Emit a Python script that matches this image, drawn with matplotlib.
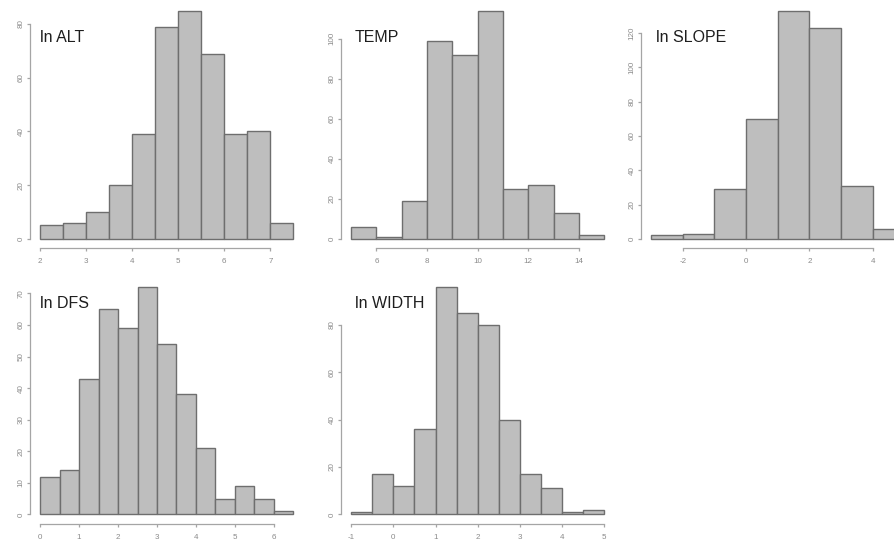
import matplotlib
matplotlib.use("Agg")
import matplotlib.pyplot as plt
import numpy as np

plt.rcParams['font.family'] = ['Liberation Sans', 'DejaVu Sans']

# ---- data (bin edges and counts) ----
alt_edges = [2, 2.5, 3, 3.5, 4, 4.5, 5, 5.5, 6, 6.5, 7, 7.5]
alt_counts = [5, 6, 10, 20, 39, 79, 85, 69, 39, 40, 6]
alt_xticks = [2, 3, 4, 5, 6, 7]
alt_yticks = [0, 20, 40, 60, 80]

temp_edges = [5, 6, 7, 8, 9, 10, 11, 12, 13, 14, 15]
temp_counts = [6, 1, 19, 99, 92, 114, 25, 27, 13, 2]
temp_xticks = [6, 8, 10, 12, 14]
temp_yticks = [0, 20, 40, 60, 80, 100]

slope_edges = [-3, -2, -1, 0, 1, 2, 3, 4, 5]
slope_counts = [2, 3, 29, 70, 133, 123, 31, 6]
slope_xticks = [-2, 0, 2, 4]
slope_yticks = [0, 20, 40, 60, 80, 100, 120]

dfs_edges = [0, 0.5, 1, 1.5, 2, 2.5, 3, 3.5, 4, 4.5, 5, 5.5, 6, 6.5]
dfs_counts = [12, 14, 43, 65, 59, 72, 54, 38, 21, 5, 9, 5, 1]
dfs_xticks = [0, 1, 2, 3, 4, 5, 6]
dfs_yticks = [0, 10, 20, 30, 40, 50, 60, 70]

width_edges = [-1, -0.5, 0, 0.5, 1, 1.5, 2, 2.5, 3, 3.5, 4, 4.5, 5]
width_counts = [1, 17, 12, 36, 96, 85, 80, 40, 17, 11, 1, 2]
width_xticks = [-1, 0, 1, 2, 3, 4, 5]
width_yticks = [0, 20, 40, 60, 80]

titles = ["ln ALT", "TEMP", "ln SLOPE", "ln DFS", "ln WIDTH"]

W, H = 895, 541
fig = plt.figure(figsize=(W / 100, H / 100), dpi=100)
fig.patch.set_facecolor('white')

# plot regions in pixels: (left, top)
col_left = [30, 341, 641]
col_w = 273.5
row_top = [1.5, 278]
row_h = [246.5, 245.5]

panels = [
    (alt_edges, alt_counts, alt_xticks, alt_yticks, 0, 0),
    (temp_edges, temp_counts, temp_xticks, temp_yticks, 0, 1),
    (slope_edges, slope_counts, slope_xticks, slope_yticks, 0, 2),
    (dfs_edges, dfs_counts, dfs_xticks, dfs_yticks, 1, 0),
    (width_edges, width_counts, width_xticks, width_yticks, 1, 1),
]

axis_col = '#a5a5a5'
lab_col = '#8a8a8a'

for (edges, counts, xt, yt, r, c), title in zip(panels, titles):
    left = col_left[c]
    top = row_top[r]
    h = row_h[r]
    ax = fig.add_axes([left / W, 1 - (top + h) / H, col_w / W, h / H])
    ax.patch.set_alpha(0)
    e = np.array(edges, dtype=float)
    ax.bar(e[:-1], counts, width=np.diff(e), align='edge',
           color='#bebebe', edgecolor='#6e6e6e', linewidth=1.0, clip_on=False)
    rng = e[-1] - e[0]
    ax.set_xlim(e[0] - 0.04 * rng, e[-1] + 0.04 * rng)
    m = max(counts)
    ax.set_ylim(-0.04 * m, 1.04 * m)
    for s in ['top', 'right']:
        ax.spines[s].set_visible(False)
    for s in ['left', 'bottom']:
        ax.spines[s].set_color(axis_col)
        ax.spines[s].set_linewidth(0.9)
    ax.spines['bottom'].set_bounds(xt[0], xt[-1])
    ax.spines['left'].set_bounds(yt[0], yt[-1])
    ax.set_xticks(xt)
    ax.set_yticks(yt)
    ax.set_xticklabels([str(v) for v in xt])
    ax.set_yticklabels([str(v) for v in yt], rotation=90, va='center')
    ax.tick_params(axis='both', direction='out', length=2.5, width=0.9,
                   color=axis_col, labelcolor=lab_col, labelsize=5.8)
    ax.tick_params(axis='x', pad=5)
    ax.tick_params(axis='y', pad=1.5)
    # title label
    tx = {0: 40, 1: 355, 2: 656}[c]
    ty = 42 if r == 0 else 307.5
    fig.text(tx / W, 1 - ty / H, title, fontsize=11.5, color='#1e1e1e',
             ha='left', va='baseline')

fig.savefig('out.png', dpi=100, facecolor='white')
